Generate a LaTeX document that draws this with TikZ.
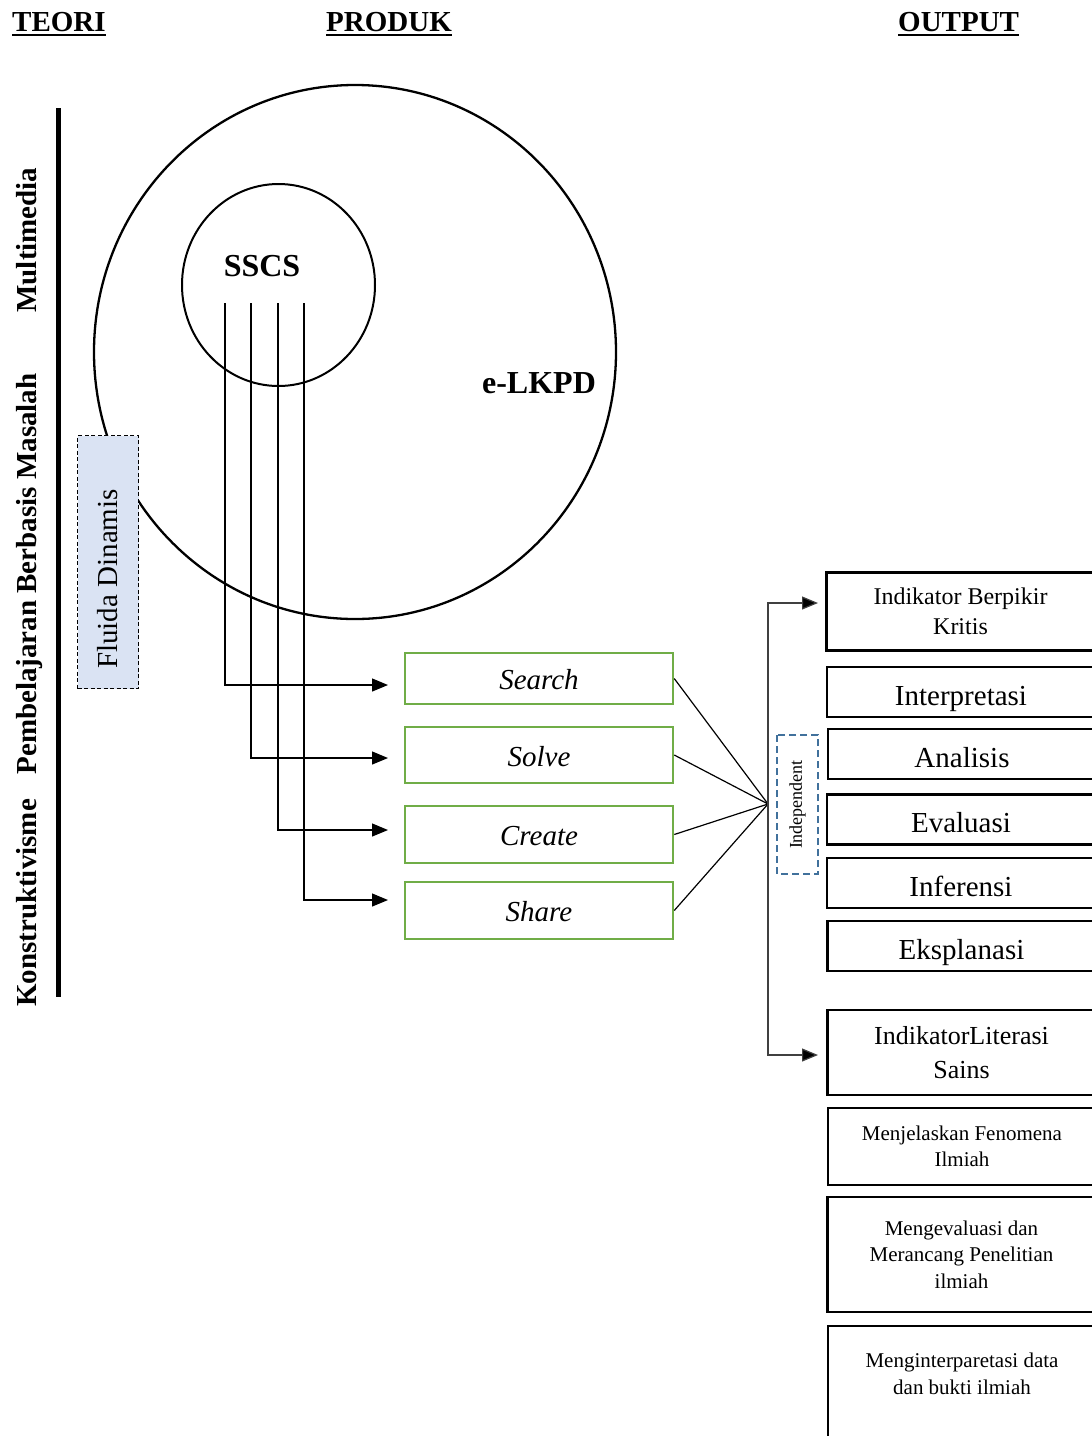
\documentclass[tikz,border=0pt]{standalone}
\usepackage{fontspec}
\setmainfont{Liberation Serif}
\usetikzlibrary{arrows.meta,shapes.geometric}
\definecolor{stepgreen}{HTML}{70AD47}
\definecolor{indblue}{HTML}{41719C}
\definecolor{fluidafill}{HTML}{DAE3F3}
\definecolor{hubgray}{HTML}{404040}
\newcommand\fsz[2]{\fontsize{#1}{#2}\selectfont}

\begin{document}
\begin{tikzpicture}[x=1pt,y=-1pt,
  head/.style={font=\bfseries\fsz{29}{35}, inner sep=0pt, anchor=base west},
  sidelabel/.style={font=\bfseries\fsz{29}{35}, rotate=90, anchor=base, inner sep=0pt},
  stepbox/.style={draw=stepgreen, line width=2.5pt, minimum width=268pt,
    inner sep=0pt, text height=22pt, text depth=0pt, font=\itshape\fsz{29}{35}},
  outbox/.style={draw=black, line width=2.6pt, minimum width=268pt,
    inner sep=0pt, align=center},
  onebox/.style={outbox, minimum height=50pt, text height=26pt, text depth=0pt, font=\fsz{29}{35}},
  link/.style={line width=1.2pt},
  arrowline/.style={line width=1.2pt, -{Triangle[length=16pt,width=13pt]}}
]
\clip (0,0) rectangle (1092,1436);

% column headings
\node[head] (hteori) at (12,31) {TEORI};
\node[head] (hproduk) at (326,31) {PRODUK};
\node[head] (houtput) at (898,31) {OUTPUT};
\foreach \h in {hteori,hproduk,houtput}
  \draw[line width=2.6pt] ([yshift=-4pt]\h.base west) -- ([yshift=-4pt]\h.base east);

% theory column
\draw[line width=5pt] (58,108) -- (58,997);
\node[sidelabel] (multi) at (36,240) {Multimedia};
\node[sidelabel] (pbm) at (36,574) {Pembelajaran Berbasis Masalah};
\node[sidelabel] (konst) at (36,903) {Konstruktivisme};

% product: e-LKPD containing SSCS
\node[draw, line width=2.3pt, ellipse, minimum width=522pt, minimum height=534pt] (elkpd) at (355,352) {};
\node[font=\bfseries\fsz{32}{38}] (elkpdlabel) at (539,383) {e-LKPD};
\node[draw, line width=2pt, ellipse, minimum width=193pt, minimum height=202pt] (sscs) at (278.5,285) {};
\node[font=\bfseries\fsz{32}{38}] (sscslabel) at (262,266) {SSCS};

% topic box
\node[draw, dash pattern=on 4pt off 2.5pt, line width=1.5pt, fill=fluidafill,
  minimum width=61pt, minimum height=253pt] (fluida) at (108,562) {};
\node[font=\fsz{29}{35}, rotate=90, anchor=base, inner sep=0pt] (fluidatext) at (117,579) {Fluida Dinamis};

% syntax steps
\node[stepbox, minimum height=51pt] (search) at (539,678.5) {Search};
\node[stepbox, minimum height=56pt] (solve) at (539,755) {Solve};
\node[stepbox, minimum height=57pt] (create) at (539,834.5) {Create};
\node[stepbox, minimum height=57pt] (share) at (539,910.5) {Share};

\coordinate (s1) at (225,303);
\coordinate (s2) at (251,303);
\coordinate (s3) at (278,303);
\coordinate (s4) at (304,303);
\coordinate (t1) at (388,685);
\coordinate (t2) at (388,758);
\coordinate (t3) at (388,830);
\coordinate (t4) at (388,900);
\draw[arrowline] (s1) |- (t1);
\draw[arrowline] (s2) |- (t2);
\draw[arrowline] (s3) |- (t3);
\draw[arrowline] (s4) |- (t4);

% convergence to outputs
\coordinate (hub) at (768,804);
\foreach \s in {search,solve,create,share}
  \draw[link] (\s.east) -- (hub);
\coordinate (o1) at (818,603);
\coordinate (o2) at (818,1055);
\draw[arrowline, draw=hubgray, -{Triangle[length=16pt,width=13pt,fill=black]}] (hub) |- (o1);
\draw[arrowline, draw=hubgray, -{Triangle[length=16pt,width=13pt,fill=black]}] (hub) |- (o2);

\node[draw=indblue, dash pattern=on 7pt off 4pt, line width=2.2pt, rotate=90,
  minimum width=139pt, minimum height=41pt, inner sep=0pt, font=\fsz{18}{22}] (indep) at (797.5,804.5) {Independent};

% output indicators
\node[outbox, minimum height=78pt, font=\fsz{24}{30}] (b1) at (960.5,611.5) {Indikator Berpikir\\Kritis};
\node[onebox] (b2) at (961,692) {Interpretasi};
\node[onebox] (b3) at (962,754) {Analisis};
\node[onebox] (b4) at (961,819.5) {Evaluasi};
\node[onebox] (b5) at (961,883) {Inferensi};
\node[onebox] (b6) at (961.5,946) {Eksplanasi};
\node[outbox, minimum height=85pt, font=\fsz{26}{34}] (b7) at (961.5,1052.5) {IndikatorLiterasi\\Sains};
\node[outbox, minimum height=77pt, font=\fsz{21}{26.5}] (b8) at (962,1146.5) {Menjelaskan Fenomena\\Ilmiah};
\node[outbox, minimum height=115pt, font=\fsz{21}{26.5}] (b9) at (961.5,1254.5) {Mengevaluasi dan\\Merancang Penelitian\\ilmiah};
\node[outbox, minimum height=143pt] (b10) at (962,1397.5) {};
\node[font=\fsz{21}{26.5}, align=center] (b10text) at (962,1374) {Menginterparetasi data\\dan bukti ilmiah};
\end{tikzpicture}
\end{document}
